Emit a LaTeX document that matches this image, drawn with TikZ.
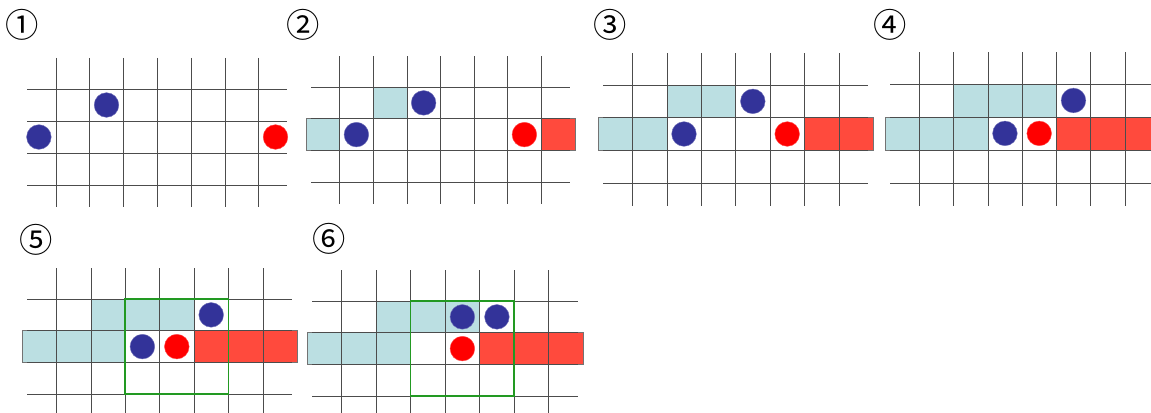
\documentclass[tikz,border=0pt]{standalone}
\usepackage{fontspec}
\newfontfamily\numfont{Noto Sans CJK JP}
\usepackage{tikz}
\usetikzlibrary{positioning}
\definecolor{CellBlue}{HTML}{BBDFE2}
\definecolor{CellRed}{HTML}{FF4A3D}
\definecolor{BallBlue}{HTML}{333399}
\definecolor{BallRed}{HTML}{FF0000}
\definecolor{FrameGreen}{HTML}{229922}
\tikzset{
  gridline/.style={draw=black!70,line width=0.45pt},
  fillB/.style={fill=CellBlue,draw=black!55,line width=0.4pt},
  fillR/.style={fill=CellRed,draw=black!55,line width=0.4pt},
  ball/.style={circle,minimum size=18.5pt,inner sep=0pt,line width=0.3pt},
  ballB/.style={ball,fill=BallBlue,draw=BallBlue!70!white},
  ballR/.style={ball,fill=BallRed,draw=BallRed!70!white},
  frameG/.style={draw=FrameGreen,line width=1.3pt},
  numlabel/.style={font=\numfont\fontsize{25}{28}\selectfont,inner sep=0pt}
}
\newcommand{\cellgrid}{%
  \foreach \k in {1,...,7}{\draw[gridline] (\k,-0.97) -- (\k,3.69);}
  \foreach \k in {0,...,3}{\draw[gridline] (0.15,\k) -- (7.85,\k);}
}

\begin{document}
\begin{tikzpicture}[x=0.75pt,y=-0.75pt]
  \useasboundingbox (0,0) rectangle (1151,412);

  \node[numlabel] (n1) at (22,25) {①};
  \node[numlabel] (n2) at (303,25) {②};
  \node[numlabel] (n3) at (610,25) {③};
  \node[numlabel] (n4) at (890,25) {④};
  \node[numlabel] (n5) at (36,240) {⑤};
  \node[numlabel] (n6) at (329,239) {⑥};

  % panel 1
  \begin{scope}[shift={(22,89)},x=25.35pt,y=-24pt]
    \cellgrid
    \node[ballB] (p1b1) at (0.5,1.5) {};
    \node[ballB] (p1b2) at (2.5,0.5) {};
    \node[ballR] (p1r)  at (7.5,1.5) {};
  \end{scope}

  % panel 2
  \begin{scope}[shift={(306,87)},x=25.2pt,y=-23.8pt]
    \filldraw[fillB] (0,1) rectangle (1,2);
    \filldraw[fillB] (2,0) rectangle (3,1);
    \filldraw[fillR] (7,1) rectangle (8,2);
    \cellgrid
    \node[ballB] (p2b1) at (1.5,1.5) {};
    \node[ballB] (p2b2) at (3.5,0.5) {};
    \node[ballR] (p2r)  at (6.5,1.5) {};
  \end{scope}

  % panel 3
  \begin{scope}[shift={(598,85)},x=25.8pt,y=-24.5pt]
    \filldraw[fillB] (0,1) rectangle (2,2);
    \filldraw[fillB] (2,0) rectangle (4,1);
    \filldraw[fillR] (6,1) rectangle (8,2);
    \cellgrid
    \node[ballB] (p3b1) at (2.5,1.5) {};
    \node[ballB] (p3b2) at (4.5,0.5) {};
    \node[ballR] (p3r)  at (5.5,1.5) {};
  \end{scope}

  % panel 4
  \begin{scope}[shift={(885,84)},x=25.7pt,y=-24.7pt]
    \filldraw[fillB] (0,1) rectangle (3,2);
    \filldraw[fillB] (2,0) rectangle (5,1);
    \filldraw[fillR] (5,1) rectangle (8,2);
    \cellgrid
    \node[ballB] (p4b1) at (3.5,1.5) {};
    \node[ballB] (p4b2) at (5.5,0.5) {};
    \node[ballR] (p4r)  at (4.5,1.5) {};
  \end{scope}

  % panel 5
  \begin{scope}[shift={(22,299)},x=25.8pt,y=-23.8pt]
    \filldraw[fillB] (0,1) rectangle (3,2);
    \filldraw[fillB] (2,0) rectangle (5,1);
    \filldraw[fillR] (5,1) rectangle (8,2);
    \cellgrid
    \node[ballB] (p5b1) at (3.5,1.5) {};
    \node[ballB] (p5b2) at (5.5,0.5) {};
    \node[ballR] (p5r)  at (4.5,1.5) {};
    \draw[frameG] (3,0) rectangle (6,3);
  \end{scope}

  % panel 6
  \begin{scope}[shift={(307,301)},x=25.9pt,y=-23.8pt]
    \filldraw[fillB] (0,1) rectangle (3,2);
    \filldraw[fillB] (2,0) rectangle (5,1);
    \filldraw[fillR] (5,1) rectangle (8,2);
    \cellgrid
    \node[ballB] (p6b1) at (4.5,0.5) {};
    \node[ballB] (p6b2) at (5.5,0.5) {};
    \node[ballR] (p6r)  at (4.5,1.5) {};
    \draw[frameG] (3,0) rectangle (6,3);
  \end{scope}
\end{tikzpicture}
\end{document}
